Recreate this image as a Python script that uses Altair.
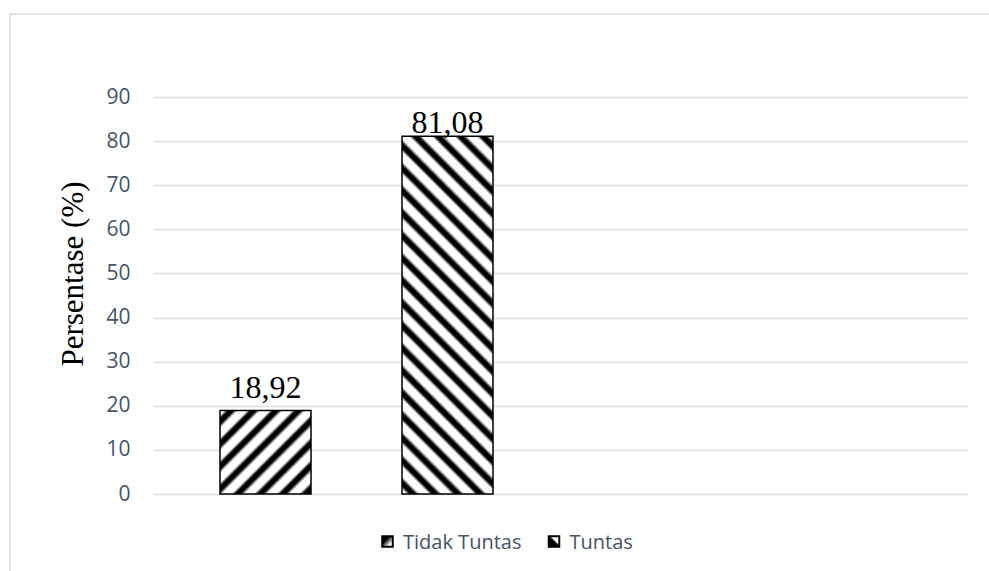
import altair as alt
import pandas as pd

# Data
categories = ["Tidak Tuntas", "Tuntas"]
percentages = [18.92, 81.08]
y_ticks = [0, 10, 20, 30, 40, 50, 60, 70, 80, 90]

df = pd.DataFrame({"kategori": categories, "persen": percentages})

# Layout: the category axis reserves two more (empty) slots to the right
slots = categories + ["", " "]
PLOT_W, PLOT_H = 815, 397
Y_MAX = 90
PX_PER_UNIT = PLOT_H / Y_MAX
STEP = 182
PAD_INNER = 0.5
BAR_W = STEP * (1 - PAD_INNER)
N = len(slots)
PAD_OUTER = (PLOT_W / STEP - (N - PAD_INNER)) / 2
FIRST_BAR_X = 67
ALIGN = FIRST_BAR_X / (PLOT_W - STEP * (N - PAD_INNER))

# value labels sit 13px above the bar, but never higher than 36px below the plot top
LABEL_GAP_PX = 13
LABEL_MIN_TOP_PX = 36
label_gap = LABEL_GAP_PX / PX_PER_UNIT
label_cap = Y_MAX - LABEL_MIN_TOP_PX / PX_PER_UNIT

GRID = "#D9DEE6"
TEXT = "#44546A"


def hatch(w, h, direction, period=22.5):
    """Diagonal 45-degree stripes as a linear gradient in bounding-box units."""
    beta = (w + h) / (w * w + h * h)
    if direction == "/":
        x1, y1, x2, y2 = 0, 0, beta * w, beta * h
    else:
        x1, y1, x2, y2 = 0, 1, beta * w, 1 - beta * h
    n = (w + h) / period
    profile = [(0.0, "white"), (0.20, "white"), (0.38, "black"),
               (0.60, "black"), (0.80, "white")]
    stops = []
    k = 0
    while k < n:
        for off, col in profile:
            o = (k + off) / n
            if o <= 1:
                stops.append({"offset": round(o, 5), "color": col})
        k += 1
    stops.append({"offset": 1, "color": stops[-1]["color"]})
    return {"gradient": "linear", "x1": x1, "y1": y1, "x2": x2, "y2": y2,
            "stops": stops}


x_scale = alt.Scale(domain=slots, paddingInner=PAD_INNER,
                    paddingOuter=PAD_OUTER, align=ALIGN)
y_scale = alt.Scale(domain=[0, Y_MAX], nice=False)

y_axis = alt.Axis(
    values=y_ticks, grid=True, gridColor=GRID, gridWidth=1.5,
    domain=False, ticks=False, labelPadding=23,
    labelFont="Open Sans", labelFontSize=21, labelColor=TEXT,
    title="Persentase (%)", titleFont="Liberation Serif",
    titleFontSize=31, titleFontWeight="normal", titleColor="black",
    titleX=-80, titleY=176.5, titleAlign="center", titleBaseline="middle",
)
y_enc = alt.Y("persen:Q", scale=y_scale, axis=y_axis, title="Persentase (%)")
x_enc = alt.X("kategori:N", scale=x_scale, axis=None)

base = alt.Chart(df)

# Outer chart frame
frame = alt.Chart(pd.DataFrame({"k": [0]})).mark_rect(
    fill="white", fillOpacity=0, stroke=GRID, strokeWidth=1.5
).encode(x=alt.value(-143), x2=alt.value(860), y=alt.value(-83), y2=alt.value(490))

layers = [frame]
directions = ["/", "\\"]
for cat, val, d in zip(categories, percentages, directions):
    h = val * PX_PER_UNIT
    layers.append(
        base.transform_filter(alt.datum.kategori == cat)
        .mark_bar(fill=hatch(BAR_W, h, d), stroke="black", strokeWidth=1.5)
        .encode(x=x_enc, y=y_enc)
    )

labels = base.transform_calculate(
    label="replace(format(datum.persen, '.2f'), '.', ',')",
    label_y=f"min(datum.persen + {label_gap}, {label_cap})",
).mark_text(
    font="Liberation Serif", fontSize=32, color="black", baseline="alphabetic"
).encode(
    x=x_enc,
    y=alt.Y("label_y:Q", scale=y_scale, axis=y_axis, title="Persentase (%)"),
    text="label:N",
)
layers.append(labels)

# Legend below the plot
legend_symbols = [
    {"gradient": "linear", "x1": 0, "y1": 0, "x2": 1, "y2": 1,
     "stops": [{"offset": 0, "color": "black"}, {"offset": 0.35, "color": "black"},
               {"offset": 0.75, "color": "white"}, {"offset": 1, "color": "white"}]},
    {"gradient": "linear", "x1": 0, "y1": 1, "x2": 1, "y2": 0,
     "stops": [{"offset": 0, "color": "black"}, {"offset": 0.5, "color": "black"},
               {"offset": 0.62, "color": "white"}, {"offset": 1, "color": "white"}]},
]
legend_x = [234.5, 401]
legend_y = 444.5
for cat, sym, lx in zip(categories, legend_symbols, legend_x):
    item = base.transform_filter(alt.datum.kategori == cat)
    layers.append(
        item.mark_square(size=110, fill=sym, fillOpacity=1, stroke="black",
                         strokeWidth=2, opacity=1)
        .encode(x=alt.value(lx), y=alt.value(legend_y))
    )
    layers.append(
        item.mark_text(align="left", baseline="alphabetic", font="Open Sans",
                       fontSize=20, color=TEXT)
        .encode(x=alt.value(lx + 15.5), y=alt.value(legend_y + 7),
                text="kategori:N")
    )

chart = alt.layer(*layers).properties(
    width=PLOT_W, height=PLOT_H,
    autosize=alt.AutoSizeParams(type="none"),
    padding={"left": 153, "top": 97, "right": 21, "bottom": 77},
    background="white",
).configure_view(strokeWidth=0)

chart.save("out.html", embed_options={"renderer": "svg", "actions": False})
